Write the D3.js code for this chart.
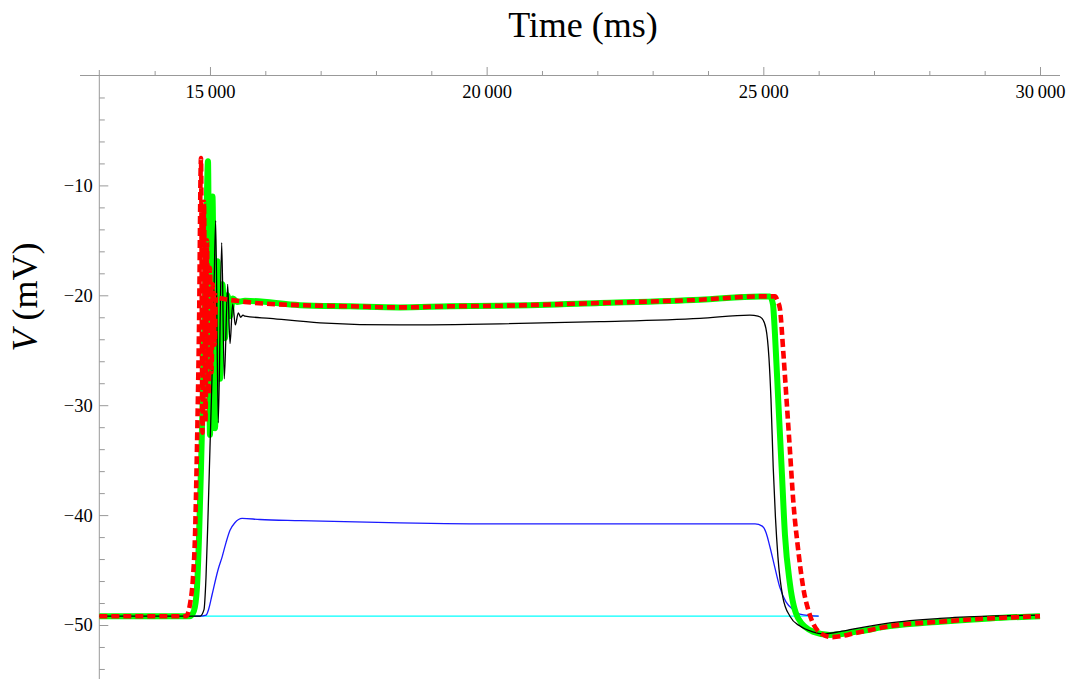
<!DOCTYPE html>
<html>
<head>
<meta charset="utf-8">
<script src="https://cdn.jsdelivr.net/npm/d3@7"></script>
<style>
    body { margin: 0; background: #fff; }
    #chart { width: 1068px; height: 679px; }
    .tick text { font-family: "Liberation Serif", "Times New Roman", serif; font-size: 18.5px; fill: #000; }
    .axis-title { font-family: "Liberation Serif", "Times New Roman", serif; font-size: 36px; fill: #000; }
</style>
</head>
<body>
<div id="chart"></div>
<script>
// time in ms, membrane potential in mV
const cyanTime = [13000, 26000];
const cyanV = [-49.2, -49.2];

const blueTime = [13000, 14820, 14930, 14980, 15040, 15150, 15220, 15290, 15360, 15450, 15580, 15900, 16630, 18430, 20240, 22050, 23850, 24850, 24980, 25050, 25120, 25210, 25300, 25410, 25540, 25660, 26000];
const blueV = [-49.2, -49.2, -49.1, -48.5, -47.2, -44.9, -43.8, -42.5, -41.4, -40.7, -40.3, -40.4, -40.5, -40.7, -40.8, -40.8, -40.8, -40.8, -41.0, -41.6, -42.9, -44.8, -46.6, -47.9, -48.6, -49.0, -49.2];

const greenTime = [13000, 14639, 14711, 14765, 14802, 14838, 14874, 14910, 14937, 14964, 15000, 15045, 15091, 15136, 15181, 15226, 15271, 15317, 15362, 15416, 15488, 15633, 16627, 17530, 18434, 19337, 20241, 22048, 23855, 24940, 25120, 25174, 25211, 25270, 25331, 25391, 25482, 25631, 25897, 26204, 26692, 27288, 28192, 29095, 30000];
const greenV = [-49.2, -49.2, -48.7, -46.6, -42.0, -35.7, -28.5, -20.3, -13.1, -7.8, -32.7, -11.0, -32.1, -16.9, -27.6, -19.0, -23.9, -20.0, -21.9, -20.3, -20.6, -20.5, -20.9, -21.0, -21.1, -21.0, -20.95, -20.7, -20.4, -20.1, -20.1, -20.8, -23.6, -29.6, -35.7, -41.8, -46.3, -49.4, -50.6, -50.9, -50.6, -50.1, -49.7, -49.4, -49.2];

const blackTime = [13000, 14820, 14892, 14928, 14964, 15000, 15036, 15073, 15103, 15150, 15212, 15259, 15320, 15362, 15411, 15458, 15512, 15555, 15597, 15633, 16085, 16988, 18434, 20241, 22048, 23855, 24759, 24903, 24975, 25047, 25102, 25138, 25179, 25219, 25264, 25354, 25481, 25662, 25879, 26078, 26385, 26692, 27288, 28192, 29095, 30000];
const blackV = [-49.2, -49.2, -48.6, -45.7, -40.2, -33.9, -27.6, -19.4, -13.2, -31.6, -15.2, -27.6, -19.0, -24.4, -20.8, -22.7, -21.6, -22.0, -21.8, -21.9, -22.1, -22.5, -22.7, -22.6, -22.4, -22.1, -21.8, -21.9, -22.1, -23.0, -25.7, -29.4, -35.7, -40.2, -43.8, -47.5, -49.2, -50.1, -50.6, -50.8, -50.6, -50.3, -49.8, -49.4, -49.2, -49.1];

const redTime = [13000, 14567, 14639, 14693, 14729, 14765, 14802, 14838, 14865, 14892, 14919, 14946, 14973, 15000, 15027, 15054, 15082, 15109, 15145, 15217, 15326, 15488, 15633, 16627, 17530, 18434, 19337, 20241, 22048, 23855, 24940, 25211, 25264, 25300, 25360, 25421, 25482, 25541, 25631, 25721, 25842, 26023, 26240, 26692, 27288, 28192, 29095, 30000];
const redV = [-49.2, -49.2, -48.1, -45.7, -42.0, -33.9, -23.0, -7.5, -32.5, -11.5, -31.5, -15.0, -29.0, -17.5, -27.0, -19.0, -24.5, -20.0, -20.2, -20.3, -20.4, -20.5, -20.6, -20.9, -21.0, -21.1, -21.0, -20.95, -20.7, -20.4, -20.1, -20.1, -20.6, -21.2, -25.1, -29.6, -34.2, -38.7, -43.2, -46.6, -49.1, -50.7, -51.1, -50.7, -50.1, -49.7, -49.4, -49.2];

const xMajorTicks = [15000, 20000, 25000, 30000];
const yMajorTicks = [-10, -20, -30, -40, -50];

class VoltagePlot {

    constructor(parentElement){
        this.parentElement = parentElement;
        this.traces = [
            {time: cyanTime, v: cyanV, color: "#00ffff", width: 1.3},
            {time: blueTime, v: blueV, color: "#1a1aff", width: 1.3},
            {time: greenTime, v: greenV, color: "#00ff00", width: 6},
            {time: blackTime, v: blackV, color: "#000000", width: 1.3},
            {time: redTime, v: redV, color: "#ff0000", width: 4.6, dash: "8,4"}
        ];
        this.initVis();
    }

    initVis(){
        let vis = this;

        vis.width = 1068;
        vis.height = 679;

        vis.svg = d3.select("#" + vis.parentElement).append("svg")
            .attr("width", vis.width)
            .attr("height", vis.height);

        vis.x = d3.scaleLinear().domain([13000, 30000]).range([99.3, 1040]);
        vis.y = d3.scaleLinear().domain([0, -50]).range([75.5, 625]);

        let fmt = d => d3.format(",")(d).replace(",", "\u2009");

        // minor ticks on the time axis
        let xMinor = d3.range(14000, 30000, 1000).filter(d => d % 5000 !== 0);
        vis.svg.append("g")
            .attr("transform", `translate(0, ${vis.y(0)})`)
            .call(d3.axisBottom(vis.x).tickValues(xMinor).tickSizeInner(-4.5).tickSizeOuter(0).tickFormat(""))
            .call(g => g.select(".domain").remove())
            .call(g => g.selectAll("line").attr("stroke", "#999"));

        vis.svg.append("g")
            .attr("transform", `translate(0, ${vis.y(0)})`)
            .call(d3.axisBottom(vis.x).tickValues(xMajorTicks).tickSizeInner(-8.5).tickSizeOuter(0).tickPadding(9.5).tickFormat(fmt))
            .call(g => g.select(".domain").remove())
            .call(g => g.selectAll("line").attr("stroke", "#999"));

        // minor ticks on the voltage axis
        let yMinor = d3.range(-2, -56, -2).filter(d => d % 10 !== 0);
        vis.svg.append("g")
            .attr("transform", `translate(${vis.x(13000)}, 0)`)
            .call(d3.axisLeft(vis.y).tickValues(yMinor).tickSizeInner(-5.5).tickSizeOuter(0).tickFormat(""))
            .call(g => g.select(".domain").remove())
            .call(g => g.selectAll("line").attr("stroke", "#999"));

        vis.svg.append("g")
            .attr("transform", `translate(${vis.x(13000)}, 0)`)
            .call(d3.axisLeft(vis.y).tickValues(yMajorTicks).tickSizeInner(-9).tickSizeOuter(0).tickPadding(6.5)
                .tickFormat(d => "\u2212" + Math.abs(d)))
            .call(g => g.select(".domain").remove())
            .call(g => g.selectAll("line").attr("stroke", "#999"));

        // axis lines
        vis.svg.append("line")
            .attr("x1", vis.x.range()[0] - 19.3).attr("x2", vis.x.range()[1] + 20)
            .attr("y1", vis.y(0)).attr("y2", vis.y(0))
            .attr("stroke", "#999");
        vis.svg.append("line")
            .attr("x1", vis.x(13000)).attr("x2", vis.x(13000))
            .attr("y1", vis.y(0) - 5.5).attr("y2", vis.height)
            .attr("stroke", "#999");

        // titles
        vis.svg.append("text")
            .attr("class", "axis-title")
            .attr("x", 583).attr("y", 37)
            .attr("text-anchor", "middle")
            .text("Time (ms)");

        let yTitle = vis.svg.append("text")
            .attr("class", "axis-title")
            .attr("transform", "translate(37, 297) rotate(-90)")
            .attr("text-anchor", "middle");
        yTitle.append("tspan").attr("font-style", "italic").text("V");
        yTitle.append("tspan").text(" (mV)");

        vis.line = d3.line()
            .curve(d3.curveMonotoneX)
            .x(d => vis.x(d.t))
            .y(d => vis.y(d.v));

        vis.wrangleData();
    }

    wrangleData(){
        let vis = this;
        vis.displayData = vis.traces.map(tr => ({
            color: tr.color,
            width: tr.width,
            dash: tr.dash || null,
            points: tr.time.map((t, i) => ({t: t, v: tr.v[i]}))
        }));
        vis.updateVis();
    }

    updateVis(){
        let vis = this;
        vis.svg.append("g")
            .selectAll(".trace")
            .data(vis.displayData)
            .join("path")
            .attr("class", "trace")
            .attr("d", d => vis.line(d.points))
            .attr("fill", "none")
            .attr("stroke", d => d.color)
            .attr("stroke-width", d => d.width)
            .attr("stroke-dasharray", d => d.dash)
            .attr("stroke-linejoin", "miter")
            .attr("stroke-miterlimit", 2);
    }
}

new VoltagePlot("chart");
</script>
</body>
</html>
